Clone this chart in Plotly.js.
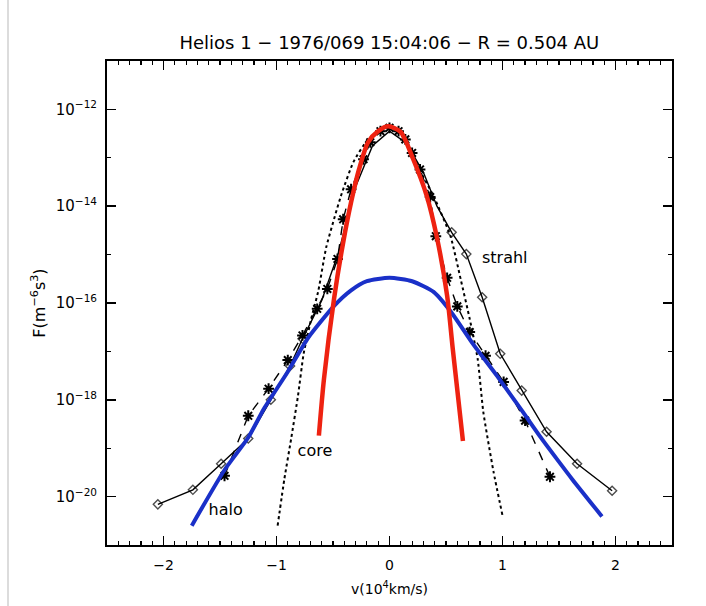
<!DOCTYPE html>
<html>
<head>
<meta charset="utf-8">
<script src="https://cdn.plot.ly/plotly-3.0.1.min.js"></script>
<style>html,body{margin:0;padding:0;background:#fff;}#chart{width:706px;height:606px;}</style>
</head>
<body>
<div id="chart"></div>
<script>
// velocity in units of 10^4 km/s ; F given as log10(F [m^-6 s^3])
const coreV    = [-0.625, -0.58, -0.49, -0.41, -0.34, -0.27, -0.19, -0.10, -0.01, 0.10, 0.21, 0.33, 0.42, 0.51, 0.56, 0.65];
const coreLogF = [-18.74, -17.57, -15.90, -14.75, -13.92, -13.24, -12.68, -12.45, -12.35, -12.47, -13.03, -13.79, -14.65, -15.85, -16.95, -18.85];

const haloV    = [-1.75, -1.46, -1.25, -1.11, -0.90, -0.72, -0.49, -0.34, -0.20, 0.00, 0.20, 0.39, 0.54, 0.74, 0.95, 1.18, 1.33, 1.48, 1.62, 1.88];
const haloLogF = [-20.60, -19.45, -18.78, -18.18, -17.42, -16.72, -16.06, -15.74, -15.55, -15.48, -15.55, -15.77, -16.17, -16.85, -17.50, -18.25, -18.75, -19.22, -19.65, -20.41];

const dotV     = [-0.99, -0.93, -0.87, -0.81, -0.76, -0.69, -0.63, -0.56, -0.43, -0.32, -0.19, 0.00, 0.12, 0.25, 0.39, 0.54, 0.63, 0.71, 0.78, 0.83, 0.92, 1.00];
const dotLogF  = [-20.60, -19.63, -18.80, -17.92, -17.05, -16.30, -15.75, -14.85, -13.79, -13.09, -12.62, -12.35, -12.50, -13.18, -13.79, -14.62, -15.51, -16.33, -17.15, -18.25, -19.48, -20.39];

const starV    = [-1.46, -1.25, -1.07, -0.90, -0.77, -0.64, -0.55, -0.46, -0.41, -0.34, -0.23, -0.17, -0.08, 0.00, 0.08, 0.14, 0.20, 0.27, 0.36, 0.41, 0.51, 0.60, 0.71, 0.85, 1.01, 1.20, 1.42];
const starLogF = [-19.57, -18.33, -17.77, -17.18, -16.67, -16.12, -15.71, -15.09, -14.27, -13.65, -13.03, -12.68, -12.45, -12.38, -12.45, -12.62, -12.90, -13.24, -13.81, -14.62, -15.48, -16.07, -16.60, -17.09, -17.63, -18.43, -19.59];

const strahlV    = [-2.05, -1.74, -1.49, -1.25, -1.05, -0.88, -0.77, -0.60, -0.45, -0.30, -0.15, 0.00, 0.15, 0.30, 0.42, 0.55, 0.68, 0.82, 0.98, 1.17, 1.39, 1.66, 1.97];
const strahlLogF = [-20.16, -19.86, -19.32, -18.80, -18.00, -17.30, -16.74, -15.95, -14.95, -13.60, -12.75, -12.45, -12.70, -13.30, -14.00, -14.54, -14.99, -15.88, -17.05, -17.81, -18.66, -19.32, -19.88];

const yTickExp   = [-12, -14, -16, -18, -20];
const yMinorExp  = [-11, -13, -15, -17, -19, -21];
const xTickVals  = [-2, -1, 0, 1, 2];
const xTickText  = ['\u22122', '\u22121', '0', '1', '2'];

const labelText = ['strahl', 'core', 'halo'];
const labelV    = [1.02, -0.66, -1.45];
const labelLogF = [-15.09, -19.07, -20.29];

const pow = a => a.map(v => Math.pow(10, v));

const font = 'DejaVu Sans, Liberation Sans, Arial, sans-serif';

// hide diamond markers inside the dense core region (drawn over by asterisks there)
const strahlSize = strahlV.map(v => (v > -0.7 && v < 0.5) ? 0 : 7);

const traces = [
  {x: strahlV, y: pow(strahlLogF), mode: 'lines+markers', line: {color: '#000', width: 1.4},
   marker: {symbol: 'diamond-open', size: strahlSize, color: '#000', line: {width: 1.4, color: '#000'}}},
  {x: starV, y: pow(starLogF), mode: 'lines+markers', line: {color: '#000', width: 1.4, dash: 'dash'},
   marker: {symbol: 'asterisk-open', size: 9, color: '#000', line: {width: 2, color: '#000'}}},
  {x: dotV, y: pow(dotLogF), mode: 'lines', line: {color: '#000', width: 2, dash: 'dot', shape: 'spline', smoothing: 0.5}},
  {x: haloV, y: pow(haloLogF), mode: 'lines', line: {color: '#1a30c8', width: 4, shape: 'spline', smoothing: 0.6}},
  {x: coreV, y: pow(coreLogF), mode: 'lines', line: {color: '#ee2211', width: 4.5, shape: 'spline', smoothing: 0.7}},
  {x: labelV, y: pow(labelLogF), mode: 'text', text: labelText, textposition: 'middle center',
   textfont: {family: font, size: 16, color: '#000'}}
];

const layout = {
  width: 706, height: 606,
  margin: {l: 107, r: 34, t: 61, b: 61},
  paper_bgcolor: '#fff', plot_bgcolor: '#fff',
  showlegend: false,
  font: {family: font, color: '#000'},
  title: {text: 'Helios 1 \u2212 1976/069 15:04:06 \u2212 R = 0.504 AU', font: {family: font, size: 18, color: '#000'},
          x: 0.5515, xanchor: 'center', y: 1 - 43 / 606, yanchor: 'middle'},
  xaxis: {
    range: [-2.5, 2.5], showgrid: false, zeroline: false,
    showline: true, linecolor: '#000', linewidth: 2, mirror: 'allticks',
    ticks: 'inside', ticklen: 9, tickwidth: 1.5, tickcolor: '#000',
    tickmode: 'array', tickvals: xTickVals, ticktext: xTickText,
    tickfont: {family: font, size: 14, color: '#000'}, ticklabelstandoff: 6,
    minor: {dtick: 0.1, ticks: 'inside', ticklen: 4, tickwidth: 1.2, tickcolor: '#000', showgrid: false},
    title: {text: 'v(10<sup>4</sup>km/s)', font: {family: font, size: 14, color: '#000'}, standoff: 12}
  },
  yaxis: {
    type: 'log', range: [-21, -11], showgrid: false, zeroline: false,
    showline: true, linecolor: '#000', linewidth: 2, mirror: 'allticks',
    ticks: 'inside', ticklen: 9, tickwidth: 1.5, tickcolor: '#000',
    tickmode: 'array', tickvals: pow(yTickExp), ticktext: yTickExp.map(e => '10<sup>\u2212' + (-e) + '</sup>'),
    tickfont: {family: font, size: 15, color: '#000'}, ticklabelstandoff: 5,
    minor: {tickmode: 'array', tickvals: pow(yMinorExp), ticks: 'inside', ticklen: 4, tickwidth: 1.2, tickcolor: '#000', showgrid: false},
    title: {text: 'F(m<sup>\u22126</sup>s<sup>3</sup>)', font: {family: font, size: 16, color: '#000'}, standoff: 6}
  },
  shapes: [
    {type: 'line', xref: 'paper', yref: 'paper', x0: -99 / 565, x1: -99 / 565, y0: -61 / 484, y1: 1 + 61 / 484,
     line: {color: '#d0d0d0', width: 1.5}}
  ]
};

Plotly.newPlot('chart', traces, layout, {staticPlot: true, displayModeBar: false});
</script>
</body>
</html>
